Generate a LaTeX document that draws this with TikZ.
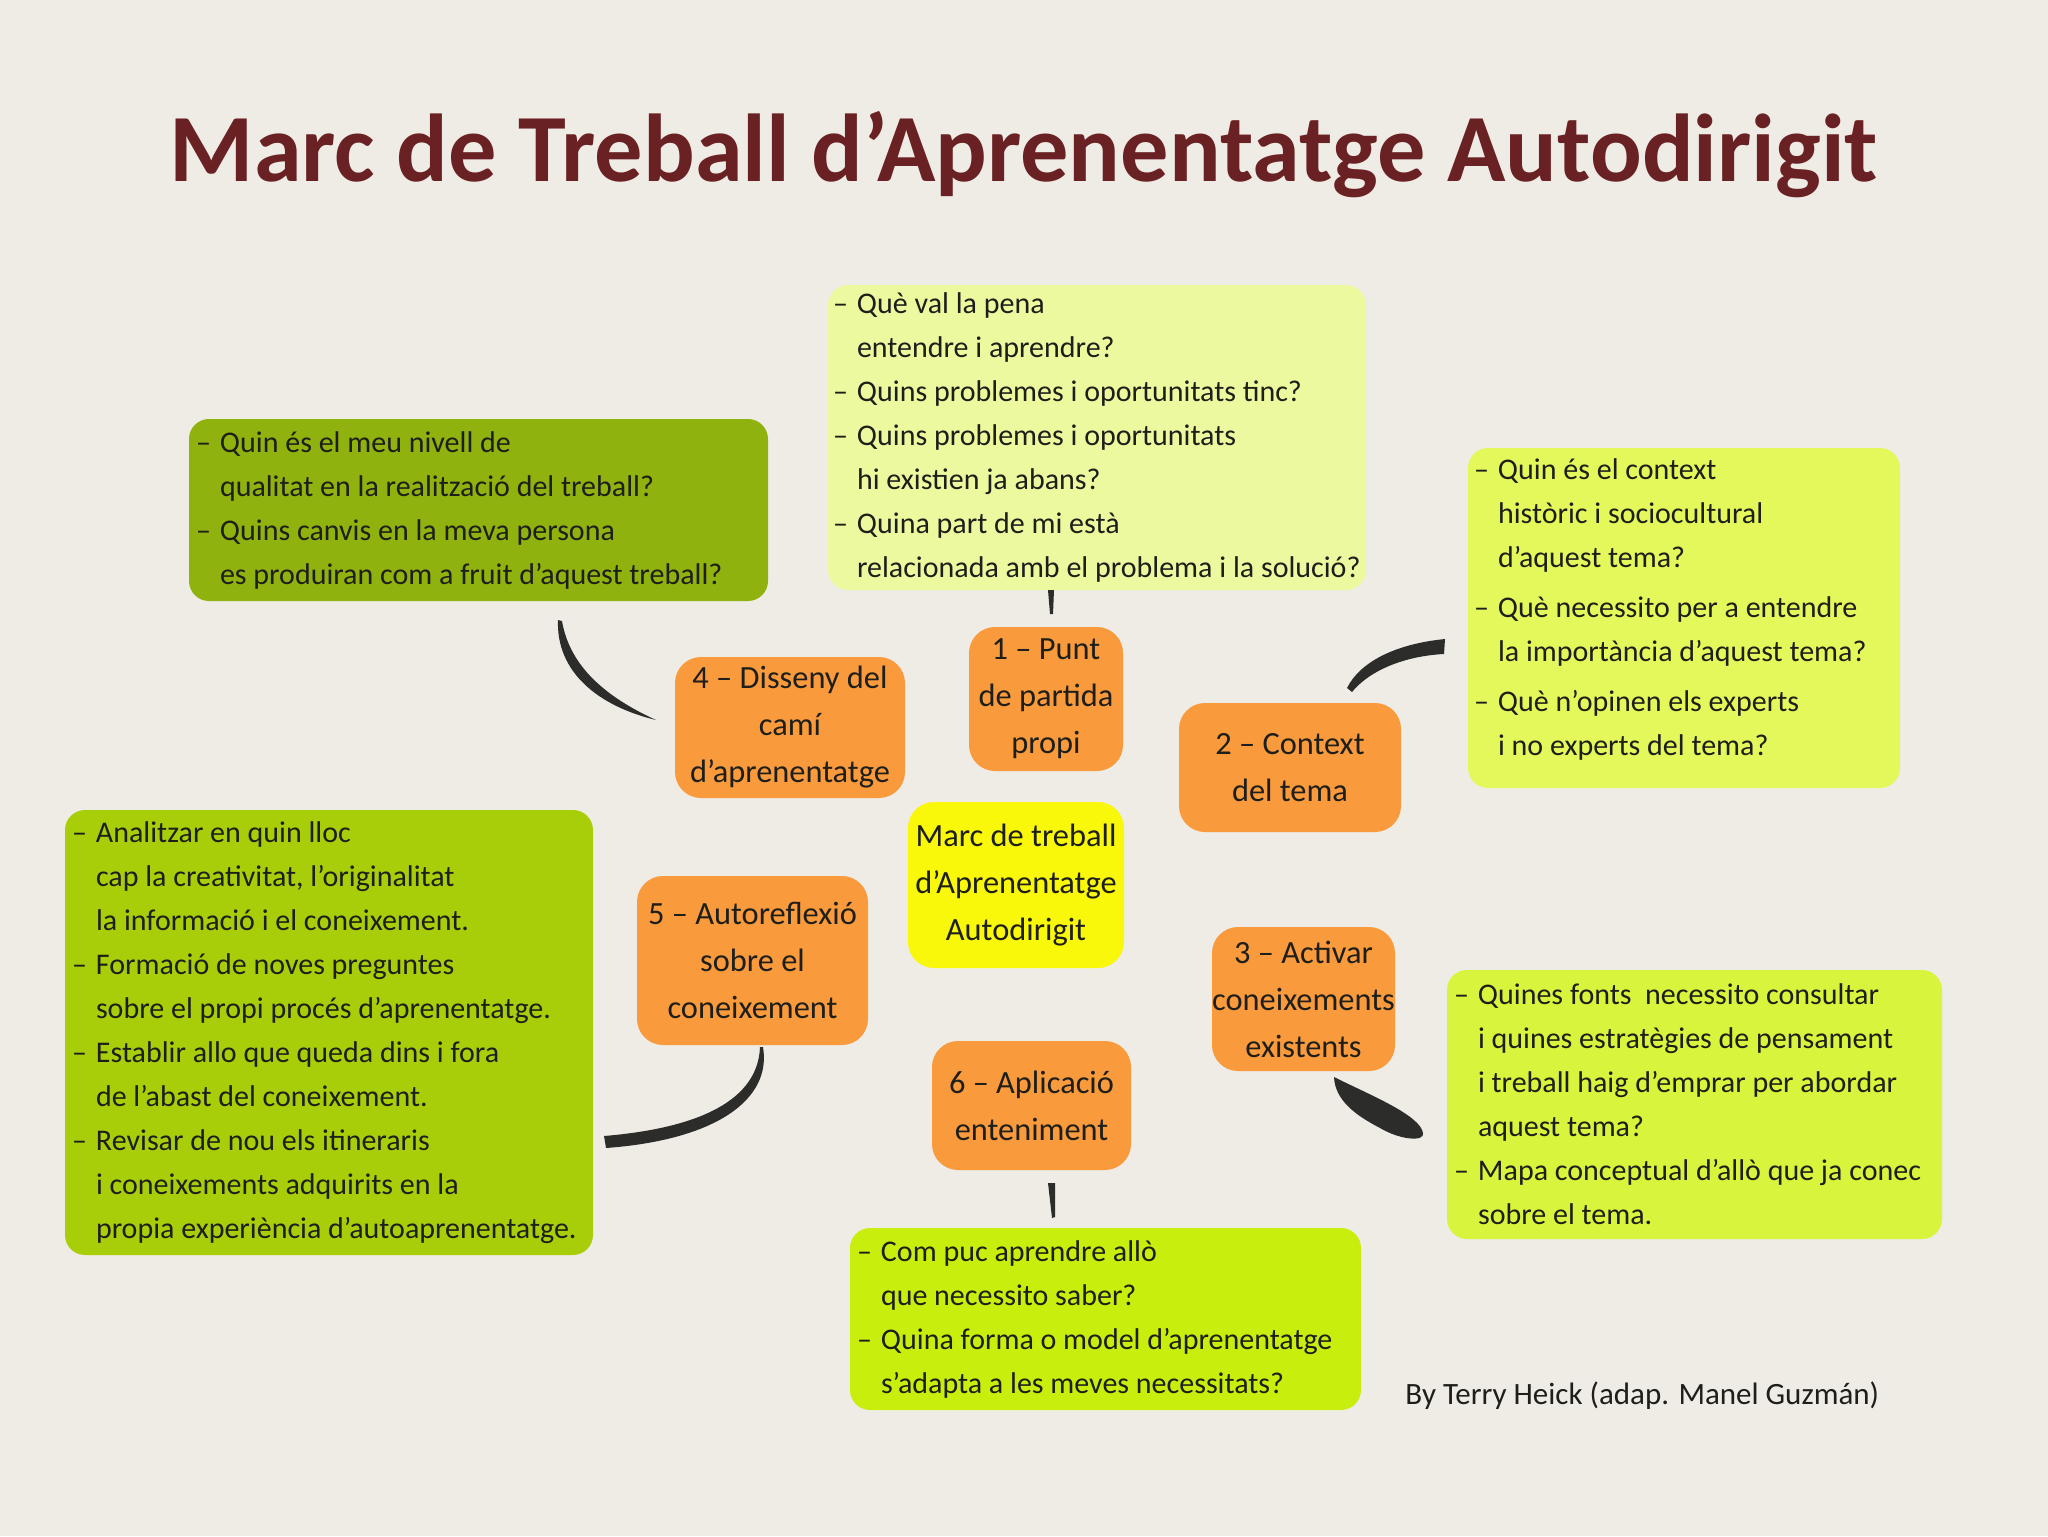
\documentclass[tikz,border=0pt]{standalone}
\usepackage{fontspec}
\setmainfont{Carlito}
\definecolor{bgc}{HTML}{EFECE5}
\definecolor{titlec}{HTML}{6A2124}
\definecolor{textc}{HTML}{1E1E1A}
\definecolor{connc}{HTML}{2C2C2A}
\definecolor{topqc}{HTML}{EDF99E}
\definecolor{qualc}{HTML}{8FB20F}
\definecolor{ctxc}{HTML}{E4F85C}
\definecolor{reflc}{HTML}{A8CE0A}
\definecolor{actc}{HTML}{D8F43C}
\definecolor{aplc}{HTML}{C8EE0E}
\definecolor{orangec}{HTML}{F99A3C}
\definecolor{centc}{HTML}{F9F70A}
\newcommand{\qdash}[1]{\makebox[12pt][l]{–}#1}
\newcommand{\qcont}[1]{\hspace*{12pt}#1}
\begin{document}
\begin{tikzpicture}[x=0.5pt,y=-0.5pt,
  qbox/.style={rounded corners=10pt, inner sep=0pt},
  obox/.style={rounded corners=13pt, fill=orangec, inner sep=0pt},
  qtext/.style={anchor=west, align=left, inner sep=0pt, text=textc,
    font=\fontsize{15}{22}\selectfont},
  otext/.style={align=center, inner sep=0pt, text=textc,
    font=\fontsize{16.2}{23.5}\selectfont},
  conn/.style={fill=connc}]
\fill[bgc] (0,0) rectangle (2048,1536);
\useasboundingbox (0,0) rectangle (2048,1536);

% title
\node[font=\fontsize{48.2}{58}\selectfont\bfseries, text=titlec] (title) at (1024,155)
  {Marc de Treball d’Aprenentatge Autodirigit};

% question boxes
\node[qbox, fill=topqc, minimum width=269pt, minimum height=152.5pt] (topq) at (1097,437.5) {};
\node[qtext] (topqt) at ([xshift=2.5pt]topq.west) {%
\qdash{Què val la pena}\\
\qcont{entendre i aprendre?}\\
\qdash{Quins problemes i oportunitats tinc?}\\
\qdash{Quins problemes i oportunitats}\\
\qcont{hi existien ja abans?}\\
\qdash{Quina part de mi està}\\
\qcont{relacionada amb el problema i la solució?}};

\node[qbox, fill=qualc, minimum width=289.5pt, minimum height=91pt] (qual) at (478.5,510) {};
\node[qtext] (qualt) at ([xshift=3.5pt]qual.west) {%
\qdash{Quin és el meu nivell de}\\
\qcont{qualitat en la realització del treball?}\\
\qdash{Quins canvis en la meva persona}\\
\qcont{es produiran com a fruit d’aquest treball?}};

\node[qbox, fill=ctxc, minimum width=216pt, minimum height=170pt] (ctx) at (1684,618) {};
\node[qtext] (ctxt) at ([xshift=3pt,yshift=4.5pt]ctx.west) {%
\qdash{Quin és el context}\\
\qcont{històric i sociocultural}\\
\qcont{d’aquest tema?}\\[3pt]
\qdash{Què necessito per a entendre}\\
\qcont{la importància d’aquest tema?}\\[3pt]
\qdash{Què n’opinen els experts}\\
\qcont{i no experts del tema?}};

\node[qbox, fill=reflc, minimum width=264pt, minimum height=222.5pt] (refl) at (329,1032.5) {};
\node[qtext] (reflt) at ([xshift=3.5pt]refl.west) {%
\qdash{Analitzar en quin lloc}\\
\qcont{cap la creativitat, l’originalitat}\\
\qcont{la informació i el coneixement.}\\
\qdash{Formació de noves preguntes}\\
\qcont{sobre el propi procés d’aprenentatge.}\\
\qdash{Establir allo que queda dins i fora}\\
\qcont{de l’abast del coneixement.}\\
\qdash{Revisar de nou els itineraris}\\
\qcont{i coneixements adquirits en la}\\
\qcont{propia experiència d’autoaprenentatge.}};

\node[qbox, fill=actc, minimum width=247.5pt, minimum height=134.5pt] (act) at (1694.5,1104.5) {};
\node[qtext] (actt) at ([xshift=3.5pt]act.west) {%
\qdash{Quines fonts\ \ necessito consultar}\\
\qcont{i quines estratègies de pensament}\\
\qcont{i treball haig d’emprar per abordar}\\
\qcont{aquest tema?}\\
\qdash{Mapa conceptual d’allò que ja conec}\\
\qcont{sobre el tema.}};

\node[qbox, fill=aplc, minimum width=255.5pt, minimum height=91pt] (apl) at (1105.5,1319) {};
\node[qtext] (aplt) at ([xshift=3.5pt]apl.west) {%
\qdash{Com puc aprendre allò}\\
\qcont{que necessito saber?}\\
\qdash{Quina forma o model d’aprenentatge}\\
\qcont{s’adapta a les meves necessitats?}};

% orange step boxes
\node[obox, minimum width=115pt, minimum height=70.5pt] (o4) at (790,727.5) {};
\node[otext] (o4t) at (o4.center) {4 – Disseny del\\camí\\d’aprenentatge};
\node[obox, minimum width=77pt, minimum height=72pt] (o1) at (1046,699) {};
\node[otext] (o1t) at (o1.center) {1 – Punt\\de partida\\propi};
\node[obox, minimum width=111pt, minimum height=64.5pt] (o2) at (1290,767.5) {};
\node[otext] (o2t) at (o2.center) {2 – Context\\del tema};
\node[obox, minimum width=115.5pt, minimum height=84.5pt] (o5) at (752.5,960.5) {};
\node[otext] (o5t) at (o5.center) {5 – Autoreflexió\\sobre el\\coneixement};
\node[obox, minimum width=91.5pt, minimum height=72pt] (o3) at (1303.5,999) {};
\node[otext] (o3t) at (o3.center) {3 – Activar\\coneixements\\existents};
\node[obox, minimum width=99.5pt, minimum height=64.5pt] (o6) at (1031.5,1105.5) {};
\node[otext] (o6t) at (o6.center) {6 – Aplicació\\enteniment};
\node[obox, fill=centc, minimum width=108pt, minimum height=83pt] (cent) at (1016,885) {};
\node[otext] (centt) at (cent.center) {Marc de treball\\d’Aprenentatge\\Autodirigit};

% connectors (brush strokes)
\coordinate (c1a) at (1051,590);
\fill[conn] (c1a) ++(-3,0) -- ++(6,0) -- ++(-1,24) -- ++(-3,0) -- cycle;
\coordinate (c4a) at (558,620);
\coordinate (c4b) at (656,720);
\fill[conn] (c4a) .. controls (556,672) and (598,706) .. (c4b)
  .. controls (608,698) and (570,668) .. (562,621) -- cycle;
\coordinate (c2a) at (1347,688);
\coordinate (c2b) at (1445,639);
\fill[conn] (c2a) .. controls (1360,662) and (1395,644) .. (c2b)
  -- (1444,654) .. controls (1405,656) and (1370,670) .. (1352,692) -- cycle;
\coordinate (c5a) at (763,1047);
\coordinate (c5b) at (606,1148);
\fill[conn] (c5a) .. controls (772,1100) and (715,1140) .. (c5b)
  -- (604,1136) .. controls (700,1128) and (758,1100) .. (760,1047) -- cycle;
\coordinate (c3a) at (1334,1077);
\coordinate (c3b) at (1423,1133);
\fill[conn] (c3a) .. controls (1370,1095) and (1420,1115) .. (c3b)
  .. controls (1425,1142) and (1400,1140) .. (1380,1128)
  .. controls (1355,1115) and (1335,1100) .. (c3a) -- cycle;
\coordinate (c6a) at (1051,1183);
\fill[conn] (c6a) ++(-3,0) -- ++(7,0) -- ++(0,34) -- ++(-3,1) -- cycle;

% credit
\node[anchor=west, inner sep=0pt, text=textc, font=\fontsize{15.5}{18}\selectfont] (credit) at (1405,1396)
  {By Terry Heick (adap. Manel Guzmán)};
\end{tikzpicture}
\end{document}
